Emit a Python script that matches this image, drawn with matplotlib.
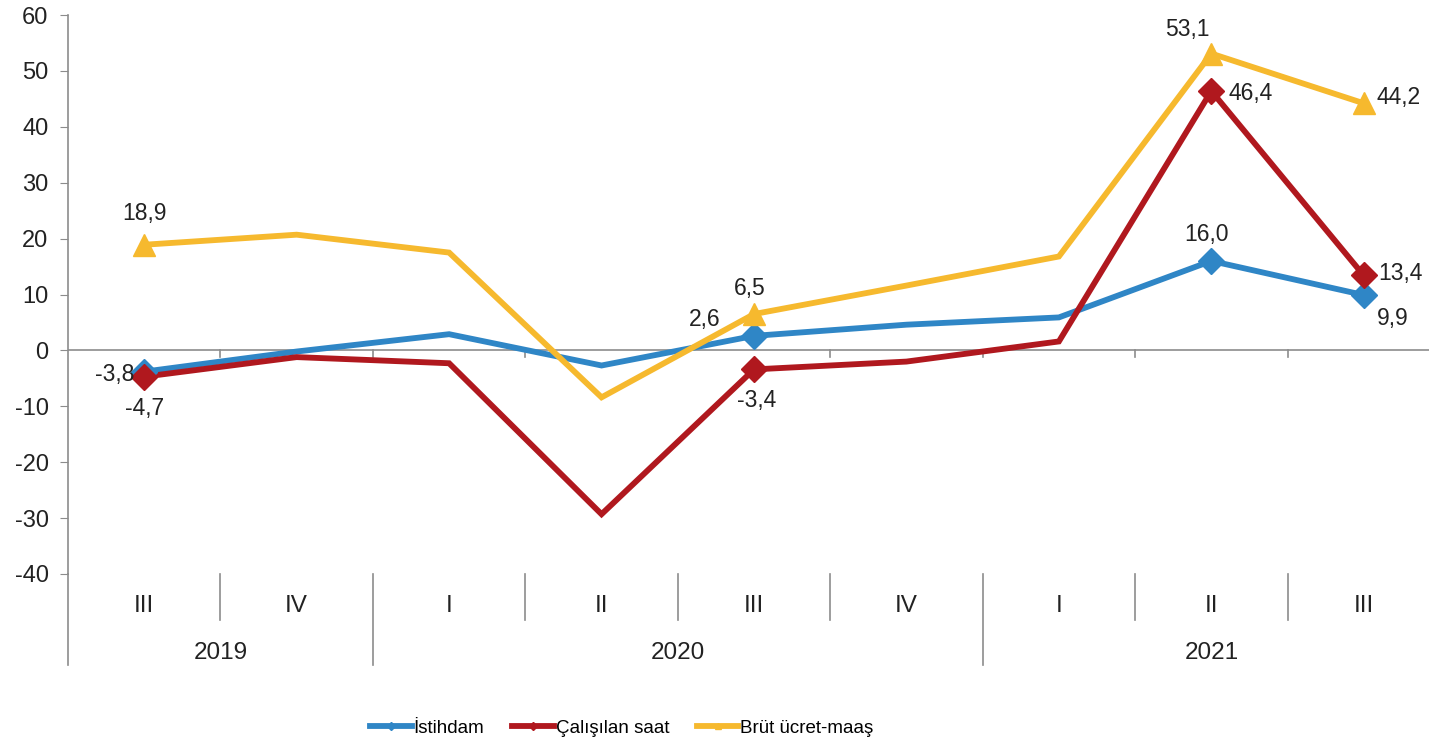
import matplotlib
matplotlib.use("Agg")
import matplotlib.pyplot as plt
from matplotlib.lines import Line2D

plt.rcParams["font.family"] = ["Liberation Sans", "DejaVu Sans"]
plt.rcParams["axes.unicode_minus"] = False

quarters = ["III", "IV", "I", "II", "III", "IV", "I", "II", "III"]
years = ["2019", "2020", "2021"]
year_spans = [(0, 1), (2, 5), (6, 8)]

istihdam = [-3.8, -0.2, 2.9, -2.7, 2.6, 4.6, 5.9, 16.0, 9.9]
calisilan = [-4.7, -1.2, -2.3, -29.3, -3.4, -2.0, 1.6, 46.4, 13.4]
brut = [18.9, 20.7, 17.5, -8.4, 6.5, 11.6, 16.8, 53.1, 44.2]

labeled = [0, 4, 7, 8]

BLUE = "#2F86C6"
RED = "#B0181E"
YELLOW = "#F6B92E"
GRAY = "#8C8C8C"
TXT = "#222222"


def main() -> None:
    fig = plt.figure(figsize=(14.29, 7.51), dpi=100)
    ax = fig.add_axes([68 / 1429, 1 - 574 / 751, 1372 / 1429, 559 / 751])
    x = list(range(len(quarters)))

    series = [
        (istihdam, BLUE, "D", 13, "İstihdam"),
        (calisilan, RED, "D", 13, "Çalışılan saat"),
        (brut, YELLOW, "^", 16, "Brüt ücret-maaş"),
    ]
    handles = []
    for vals, col, mk, ms, name in series:
        ax.plot(x, vals, color=col, lw=4.2, zorder=3, solid_joinstyle="miter")
        ax.plot([x[i] for i in labeled], [vals[i] for i in labeled],
                ls="none", marker=mk, ms=ms, color=col, zorder=4)
        handles.append(Line2D([], [], color=col, lw=4.2, marker=mk,
                              ms=4, label=name))

    # data labels: (dx, dy, ha) in pixels from the point
    offsets = {
        "b": {0: (-10, -3, "right"), 4: (-49, 16, "center"),
              7: (-5, 26, "center"), 8: (13, -23, "left")},
        "r": {0: (0, -32, "center"), 4: (3, -31, "center"),
              7: (17, -2, "left"), 8: (14, 2, "left")},
        "y": {0: (0, 31, "center"), 4: (-4, 26, "center"),
              7: (-24, 24, "center"), 8: (13, 6, "left")},
    }
    for key, vals in (("b", istihdam), ("r", calisilan), ("y", brut)):
        for i, (dx, dy, ha) in offsets[key].items():
            ax.annotate(f"{vals[i]:.1f}".replace(".", ","), (x[i], vals[i]),
                        xytext=(dx, dy), textcoords="offset pixels",
                        ha=ha, va="center", fontsize=16.5, color=TXT,
                        zorder=5)

    ax.set_xlim(-0.5, len(quarters) - 0.5)
    ax.set_ylim(-40, 60)
    ax.set_yticks(range(-40, 61, 10))
    ax.tick_params(axis="y", labelsize=17, length=6, color=GRAY,
                   labelcolor=TXT, pad=8)
    ax.set_xticks([])
    for s in ("top", "right", "bottom"):
        ax.spines[s].set_visible(False)
    ax.spines["left"].set_color(GRAY)
    ax.spines["left"].set_linewidth(1.2)

    # zero line with boundary ticks
    ax.axhline(0, color=GRAY, lw=1.2, zorder=2)
    for b in range(len(quarters) - 1):
        ax.plot([b + 0.5, b + 0.5], [0, -1.2], color=GRAY, lw=1.2, zorder=2)

    # category axis below the plot
    ax.plot([-0.5, -0.5], [-40, -56.3], color=GRAY, lw=1.2, clip_on=False)
    year_bounds = [s[1] + 0.5 for s in year_spans[:-1]]
    for b in range(len(quarters) - 1):
        bx = b + 0.5
        low = -56.3 if bx in year_bounds else -48.2
        ax.plot([bx, bx], [-40, low], color=GRAY, lw=1.2, clip_on=False)
    for i, q in enumerate(quarters):
        ax.text(i, -45.7, q, ha="center", va="center", fontsize=17.5,
                color=TXT, clip_on=False)
    for yr, (a, b) in zip(years, year_spans):
        ax.text((a + b) / 2, -54.2, yr, ha="center", va="center",
                fontsize=17.5, color=TXT, clip_on=False)

    fig.legend(handles=handles, loc="center", ncol=3,
               bbox_to_anchor=(622 / 1429, 1 - 728 / 751), frameon=False,
               fontsize=13.5, handlelength=2.2, handletextpad=0.1,
               columnspacing=1.5)

    fig.savefig("out.png", dpi=100, facecolor="white")


if __name__ == "__main__":
    main()
